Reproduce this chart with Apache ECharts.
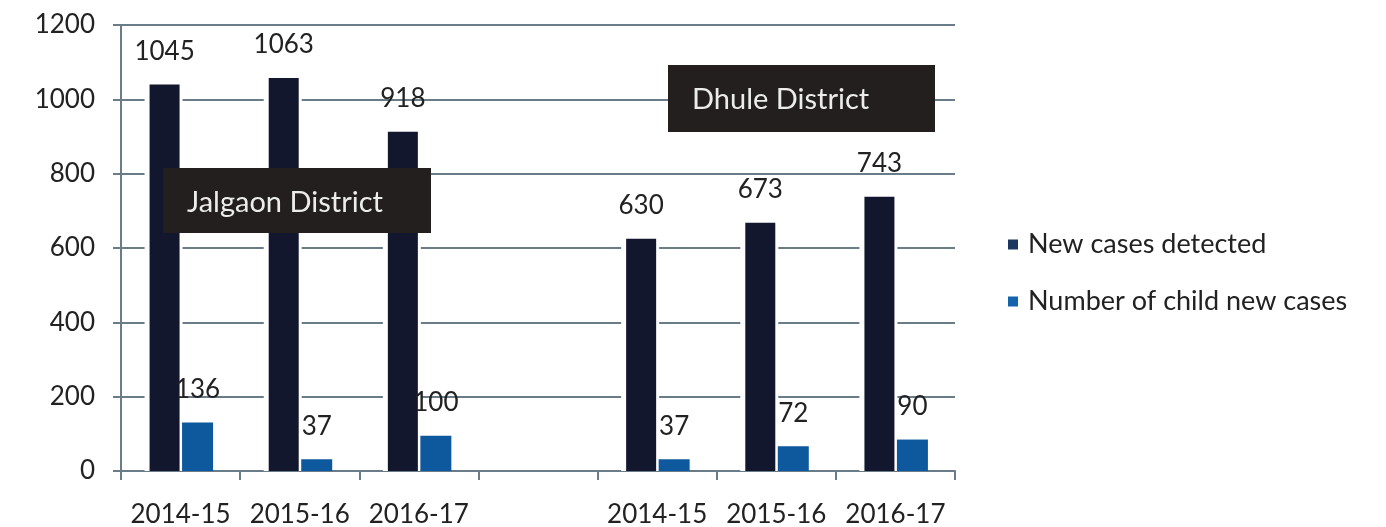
<!DOCTYPE html>
<html lang="en">
<head>
<meta charset="UTF-8">
<title>New cases</title>
<script src="https://cdn.jsdelivr.net/npm/echarts@6/dist/echarts.min.js"></script>
<style>
  html, body { margin: 0; padding: 0; background: #fff; }
  #chart { width: 1386px; height: 527px; }
</style>
</head>
<body>
<div id="chart"></div>
<script>
// categories: Jalgaon years, an empty gap slot, then Dhule years
var years = ['2014-15', '2015-16', '2016-17', '', '2014-15', '2015-16', '2016-17'];
var newCases = [1045, 1063, 918, null, 630, 673, 743];
var childCases = [136, 37, 100, null, 37, 72, 90];
var seriesNames = ['New cases detected', 'Number of child new cases'];
var yTicks = { min: 0, max: 1200, step: 200 };

var font = 'Lato, "Open Sans", sans-serif';
var gridColor = '#6a7c88';
var labelColor = '#222';

// bar drawn by hand so the dark bars can carry a white halo that cuts the gridlines
function barRenderer(offset, width, color, halo) {
    return function (params, api) {
        var v = api.value(1);
        if (v == null || isNaN(v)) return;
        var top = api.coord([api.value(0), v]);
        var base = api.coord([api.value(0), 0]);
        var x = top[0] + offset;
        var children = [];
        if (halo) {
            children.push({
                type: 'rect',
                shape: { x: x - 5, y: top[1] - 4, width: width + 8, height: base[1] - top[1] + 4 },
                style: { fill: '#fff' }
            });
        }
        children.push({
            type: 'rect',
            shape: { x: x, y: top[1] + 2, width: width, height: base[1] - top[1] - 2 },
            style: { fill: color }
        });
        children.push({
            type: 'text',
            x: x + width / 2,
            y: top[1] - 18,
            style: {
                text: String(v),
                fill: labelColor,
                font: '26px ' + font,
                textAlign: 'center',
                textVerticalAlign: 'bottom'
            }
        });
        return { type: 'group', children: children };
    };
}

function toPairs(arr) {
    return arr.map(function (v, i) { return [i, v]; });
}

var chart = echarts.init(document.getElementById('chart'));
chart.setOption({
    backgroundColor: '#fff',
    animation: false,
    grid: { left: 121, right: 431, top: 25, bottom: 56, outerBoundsMode: 'none' },
    legend: {
        orient: 'vertical',
        left: 1003,
        top: 226,
        itemWidth: 10,
        itemHeight: 10,
        itemGap: 30,
        icon: 'rect',
        itemStyle: { borderWidth: 0 },
        textStyle: { fontFamily: font, fontSize: 27, color: labelColor, padding: [0, 0, 0, 5] },
        data: [
            { name: seriesNames[0], itemStyle: { color: '#1b3760' } },
            { name: seriesNames[1], itemStyle: { color: '#1463ad' } }
        ]
    },
    xAxis: {
        type: 'category',
        data: years,
        axisLine: { lineStyle: { color: gridColor, width: 2 } },
        axisTick: { show: true, interval: 0, length: 9, lineStyle: { color: gridColor, width: 2 } },
        axisLabel: { interval: 0, margin: 31, fontFamily: font, fontSize: 26, color: labelColor }
    },
    yAxis: {
        type: 'value',
        min: yTicks.min,
        max: yTicks.max,
        interval: yTicks.step,
        axisLine: { show: true, lineStyle: { color: gridColor, width: 2 } },
        axisTick: { show: true, length: 8, lineStyle: { color: gridColor, width: 2 } },
        splitLine: { lineStyle: { color: gridColor, width: 2 } },
        axisLabel: {
            margin: 26, fontFamily: font, fontSize: 26, color: labelColor,
            formatter: function (v) { return String(v); }
        }
    },
    series: [
        {
            name: seriesNames[0],
            type: 'custom',
            data: toPairs(newCases),
            itemStyle: { color: '#13172e' },
            renderItem: barRenderer(-31, 30, '#13172e', true),
            encode: { x: 0, y: 1 },
            z: 2
        },
        {
            name: seriesNames[1],
            type: 'custom',
            data: toPairs(childCases),
            itemStyle: { color: '#0e589e' },
            renderItem: barRenderer(1.5, 31, '#0e589e', false),
            encode: { x: 0, y: 1 },
            z: 3
        }
    ],
    graphic: [
        { type: 'rect', z: 100, shape: { x: 163, y: 168, width: 268, height: 65 }, style: { fill: '#231f1e' } },
        { type: 'text', z: 101, x: 187, y: 203, style: { text: 'Jalgaon District', fill: '#ececec', font: '29px ' + font, textVerticalAlign: 'middle' } },
        { type: 'rect', z: 100, shape: { x: 668, y: 65, width: 267, height: 67 }, style: { fill: '#231f1e' } },
        { type: 'text', z: 101, x: 692, y: 100, style: { text: 'Dhule District', fill: '#ececec', font: '29px ' + font, textVerticalAlign: 'middle' } }
    ]
});
</script>
</body>
</html>
